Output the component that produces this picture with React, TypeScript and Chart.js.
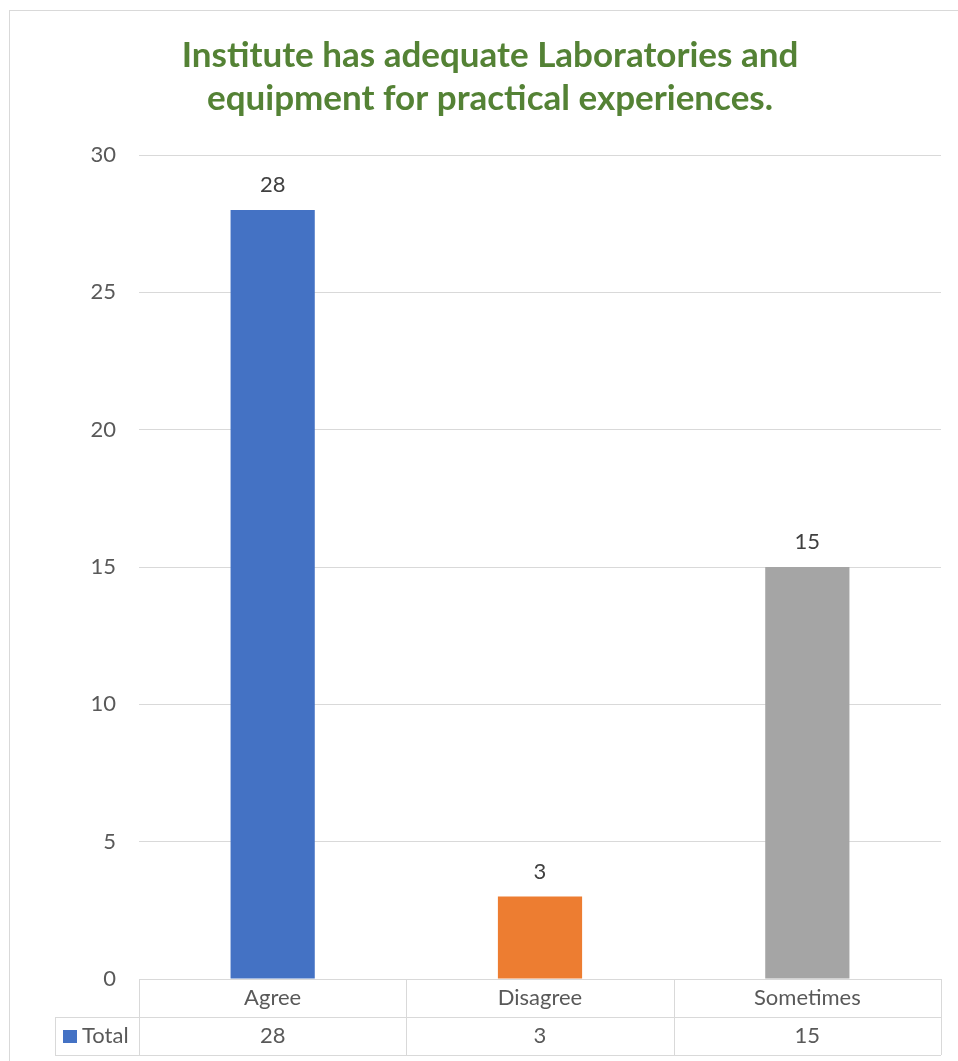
import React, { useEffect, useRef } from "react";
import { Chart, registerables } from "chart.js";

Chart.register(...registerables);

const categories = ["Agree", "Disagree", "Sometimes"];
const totals = [28, 3, 15];
const barColors = ["#4472C4", "#ED7D31", "#A5A5A5"];
const seriesName = "Total";
const titleLines = ["Institute has adequate Laboratories and", "equipment for practical experiences."];
const yTicks = [0, 5, 10, 15, 20, 25, 30];

const FONT = "Lato, 'Open Sans', sans-serif";
const TEXT = "#595959";
const GRID = "#D9D9D9";

const tablePlugin = {
  id: "excelTable",
  afterDatasetsDraw(chart: any) {
    const ctx = chart.ctx;
    const meta = chart.getDatasetMeta(0);
    ctx.save();
    ctx.fillStyle = "#404040";
    ctx.font = `22px ${FONT}`;
    ctx.textAlign = "center";
    ctx.textBaseline = "middle";
    meta.data.forEach((bar: any, i: number) => {
      ctx.fillText(String(totals[i]), bar.x, bar.y - 25);
    });
    ctx.restore();
  },
  afterDraw(chart: any) {
    const ctx = chart.ctx;
    const area = chart.chartArea;
    const xs = chart.scales.x;
    const n = categories.length;
    const cw = (area.right - area.left) / n;
    const rowH = 38;
    const top = area.bottom;
    const mid = top + rowH;
    const bot = top + rowH * 2;
    const legendLeft = 55;
    ctx.save();
    // title
    ctx.fillStyle = "#548235";
    ctx.font = `bold 35px ${FONT}`;
    ctx.textAlign = "center";
    ctx.textBaseline = "alphabetic";
    ctx.fillText(titleLines[0], 490, 67);
    ctx.fillText(titleLines[1], 490, 110);
    // outer border
    ctx.strokeStyle = GRID;
    ctx.lineWidth = 1;
    ctx.strokeRect(9.5, 10.5, 3000, 3000);
    // table lines
    ctx.beginPath();
    ctx.moveTo(area.left, top + 0.5);
    ctx.lineTo(area.right, top + 0.5);
    ctx.moveTo(legendLeft, mid + 0.5);
    ctx.lineTo(area.right, mid + 0.5);
    ctx.moveTo(legendLeft, bot + 0.5);
    ctx.lineTo(area.right, bot + 0.5);
    for (let i = 0; i <= n; i++) {
      const x = Math.round(area.left + cw * i) + 0.5;
      ctx.moveTo(x, top);
      ctx.lineTo(x, bot);
    }
    ctx.moveTo(legendLeft + 0.5, mid);
    ctx.lineTo(legendLeft + 0.5, bot);
    ctx.stroke();
    // text
    ctx.fillStyle = TEXT;
    ctx.font = `22px ${FONT}`;
    ctx.textBaseline = "middle";
    categories.forEach((c, i) => {
      const cx = xs.getPixelForValue(i);
      ctx.fillText(c, cx, top + rowH / 2);
      ctx.fillText(String(totals[i]), cx, mid + rowH / 2);
    });
    // legend key
    ctx.fillStyle = barColors[0];
    ctx.fillRect(63, mid + 13, 14, 13);
    ctx.fillStyle = TEXT;
    ctx.textAlign = "left";
    ctx.fillText(seriesName, 82, mid + rowH / 2);
    ctx.restore();
  },
};

export default function App() {
  const ref = useRef<HTMLCanvasElement>(null);
  useEffect(() => {
    if (!ref.current) return;
    const chart = new Chart(ref.current, {
      type: "bar",
      data: {
        labels: categories,
        datasets: [
          {
            label: seriesName,
            data: totals,
            backgroundColor: barColors,
            categoryPercentage: 1,
            barPercentage: 0.315,
          },
        ],
      },
      options: {
        animation: false,
        responsive: false,
        layout: { padding: { top: 155, right: 17, bottom: 82, left: 0 } },
        plugins: { legend: { display: false }, tooltip: { enabled: false }, title: { display: false } },
        scales: {
          x: { display: false },
          y: {
            min: 0,
            max: 30,
            afterBuildTicks(scale: any) {
              scale.ticks = yTicks.map((v) => ({ value: v }));
            },
            afterFit(scale: any) {
              scale.width = 139;
            },
            border: { display: false },
            grid: { color: GRID, lineWidth: 1, drawTicks: false },
            ticks: { padding: 23, color: TEXT, font: { family: FONT, size: 22 } },
          },
        },
      },
      plugins: [tablePlugin],
    });
    return () => chart.destroy();
  }, []);
  return (
    <div style={{ position: "absolute", left: 0, top: 0, background: "#fff" }}>
      <canvas ref={ref} width={958} height={1061} style={{ display: "block", width: 958, height: 1061 }} />
    </div>
  );
}
